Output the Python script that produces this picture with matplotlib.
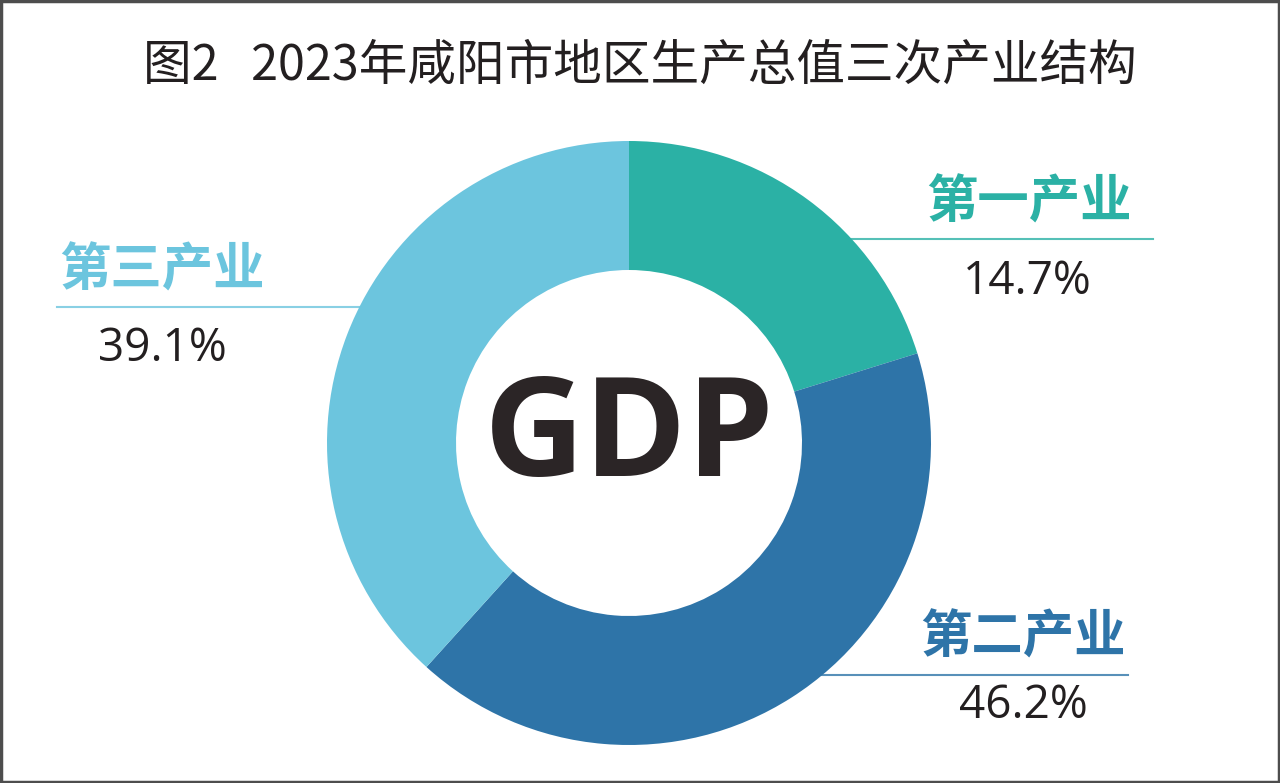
import matplotlib
matplotlib.use("Agg")
import matplotlib.pyplot as plt
from matplotlib.patches import Rectangle

# data
sectors = ["第一产业", "第二产业", "第三产业"]
share_text = [14.7, 46.2, 39.1]          # printed percentages
drawn_share = [20.2, 41.5, 38.3]         # ring widths as drawn in the chart
colors = ["#2BB1A5", "#2E74A8", "#6CC5DE"]
title = "图2   2023年咸阳市地区生产总值三次产业结构"

W, H = 1280, 783
fig = plt.figure(figsize=(W / 100, H / 100), dpi=100)
ax = fig.add_axes([0, 0, 1, 1])

cx, cy = 629, H - 443
r_out, r_in = 302, 173

ax.pie(drawn_share, colors=colors, startangle=90, counterclock=False,
       radius=r_out, center=(cx, cy),
       wedgeprops=dict(width=r_out - r_in, linewidth=0))

ax.set_xlim(0, W)
ax.set_ylim(0, H)
ax.set_aspect("equal")
ax.axis("off")

# label positions (pixel, y from top)
lab_xy = {"第一产业": (1029, 202), "第二产业": (1023, 637), "第三产业": (162, 270)}
pct_xy = {"第一产业": (1027, 282), "第二产业": (1023, 706), "第三产业": (162, 349)}
rule = {"第一产业": (845, 1153, 239), "第二产业": (815, 1128, 675), "第三产业": (57, 365, 307)}

for name, val, c in zip(sectors, share_text, colors):
    x, y = lab_xy[name]
    ax.text(x, H - y, name, ha="center", va="center", fontsize=37,
            fontweight="bold", color=c, family=["Noto Sans CJK SC"])
    x, y = pct_xy[name]
    ax.text(x, H - y, f"{val}%", ha="center", va="center", fontsize=33,
            color="#231F20", family=["Open Sans"])
    x0, x1, y = rule[name]
    ax.plot([x0, x1], [H - y, H - y], color=c, lw=1.5, alpha=0.8, zorder=0.5)

ax.text(cx, H - 440, "GDP", ha="center", va="center", fontsize=100,
        fontweight="bold", color="#2B2526", family=["Open Sans"])

ax.text(640, H - 66, title, ha="center", va="center", fontsize=35,
        color="#231F20", family=["Noto Sans CJK SC", "DejaVu Sans"])

# frame
ax.add_patch(Rectangle((1, 1), W - 2, H - 2, fill=False, ec="#4D4D4D",
                       lw=2.5, zorder=5))

fig.savefig("out.png", dpi=100, facecolor="white")
